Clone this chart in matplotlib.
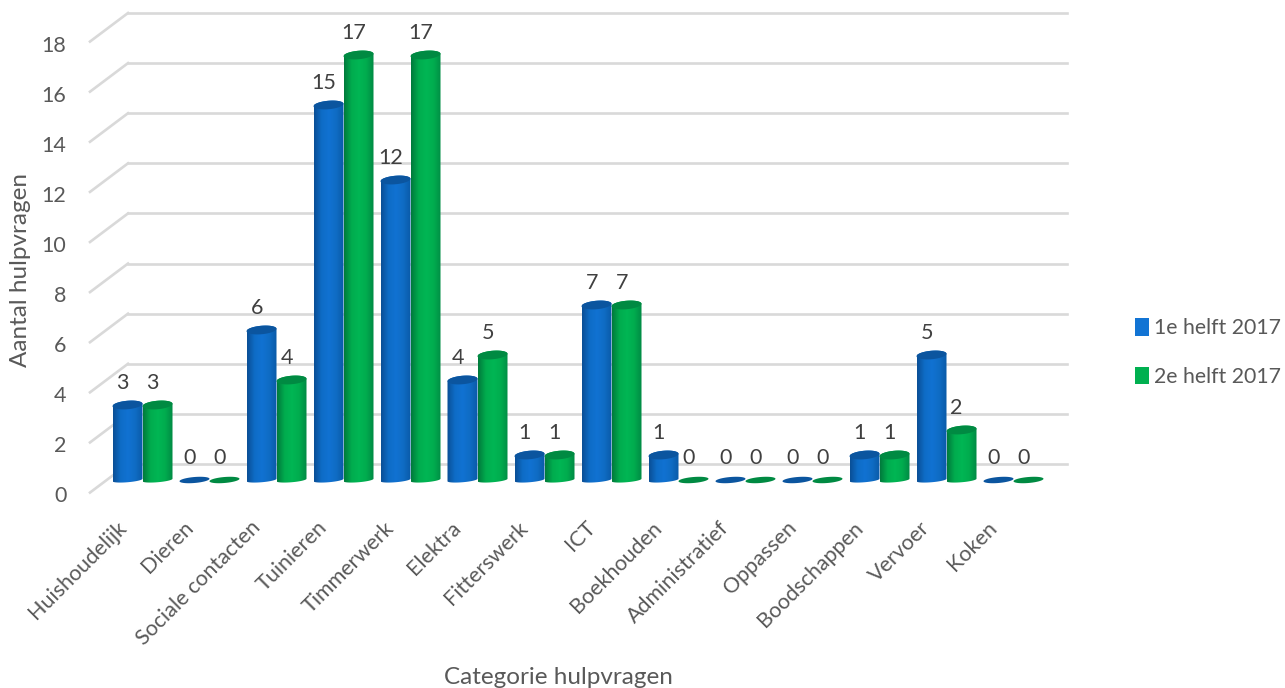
import numpy as np
import matplotlib
matplotlib.use("Agg")
import matplotlib.pyplot as plt
from matplotlib.colors import LinearSegmentedColormap
from matplotlib.patches import Polygon, Patch
from matplotlib.transforms import blended_transform_factory

categories = ["Huishoudelijk", "Dieren", "Sociale contacten", "Tuinieren", "Timmerwerk",
              "Elektra", "Fitterswerk", "ICT", "Boekhouden", "Administratief",
              "Oppassen", "Boodschappen", "Vervoer", "Koken"]
helft_1 = [3, 0, 6, 15, 12, 4, 1, 7, 1, 0, 0, 1, 5, 0]
helft_2 = [3, 0, 4, 17, 17, 5, 1, 7, 0, 0, 0, 1, 2, 0]
series_names = ["1e helft 2017", "2e helft 2017"]
y_ticks = list(range(0, 20, 2))

W, H = 1285, 688
plt.rcParams["font.family"] = ["Lato", "DejaVu Sans"]
TXT = "#595959"

fig = plt.figure(figsize=(W / 100, H / 100), dpi=100)


def axes_px(left, right, top, bottom):
    # axes from pixel box (y counted from the top of the image)
    return fig.add_axes([left / W, 1 - bottom / H, (right - left) / W, (bottom - top) / H])


# back wall with the gridlines
wall = axes_px(128, 1067, 13, 464)
wall.set_xlim(0, 1)
wall.set_ylim(0, 18)
wall.set_yticks(y_ticks)
wall.set_xticks([])
wall.tick_params(left=False, labelleft=False)
wall.grid(axis="y", color="#D9D9D9", lw=1.9)
for line in wall.get_ygridlines():
    line.set_clip_on(False)
wall.set_axisbelow(True)
for s in wall.spines.values():
    s.set_visible(False)
trans = blended_transform_factory(wall.transAxes, wall.transData)
for v in y_ticks:
    wall.plot([0, -38 / 939], [v, v - 1.14], transform=trans, color="#D9D9D9", lw=1.9, clip_on=False)

# front edge carries the tick labels and the titles
front = axes_px(90, 1030, 44, 494)
front.patch.set_alpha(0)
front.set_ylim(0, 18)
front.set_xlim((90 - 116) / 67, (1030 - 116) / 67)
front.set_yticks(y_ticks)
front.set_xticks(range(len(categories)))
front.set_xticklabels(categories, rotation=45, ha="right", rotation_mode="anchor")
front.tick_params(axis="y", length=0, pad=17, labelsize=15.5, labelcolor=TXT)
front.tick_params(axis="x", length=0, pad=17, labelsize=15.5, labelcolor=TXT)
for s in front.spines.values():
    s.set_visible(False)
front.set_xlabel("Categorie hulpvragen", fontsize=17.5, color=TXT, va="center")
front.set_ylabel("Aantal hulpvragen", fontsize=17.5, color=TXT, va="center")
front.xaxis.set_label_coords(558 / W, 1 - 678 / H, transform=fig.transFigure)
front.yaxis.set_label_coords(21 / W, 1 - 270 / H, transform=fig.transFigure)

# the cylinders
ax = axes_px(90, 1067, 5, 495)
ax.patch.set_alpha(0)
ax.axis("off")
x_min, x_max = (90 - 142.5) / 67, (1067 - 142.5) / 67
BAR_W = 30 / 67
OFFSET = 15 / 67
TOP_R = 0.17
BASE_R = 0.09
TILT = 0.22

cmap_blue = LinearSegmentedColormap.from_list("b", ["#0A4F96", "#0E6CC6", "#1172D2", "#0F6CC4", "#0A5AA8"])
cmap_green = LinearSegmentedColormap.from_list("g", ["#007A3C", "#00AC4E", "#00B654", "#00AC4E", "#008A44"])
grad = np.linspace(0, 1, 64).reshape(1, -1)


def ellipse_pts(x, y, ry, start, stop, n=40):
    t = np.linspace(start, stop, n)
    px = x + BAR_W / 2 * np.cos(t)
    return np.column_stack([px, y + ry * np.sin(t) + TILT * (px - x)])


def cylinder(x, v, cmap, cap):
    if v > 0:
        side = np.vstack([ellipse_pts(x, 0, BASE_R, np.pi, 2 * np.pi),
                          ellipse_pts(x, v, TOP_R, 0, np.pi)])
        poly = Polygon(side, closed=True, transform=ax.transData, fc="none", ec="none")
        ax.add_patch(poly)
        im = ax.imshow(grad, cmap=cmap, aspect="auto", zorder=2,
                       extent=[x - BAR_W / 2, x + BAR_W / 2, -0.3, v + 0.4])
        im.set_clip_path(poly)
        r = TOP_R
    else:
        r = 0.12
    ax.add_patch(Polygon(ellipse_pts(x, v, r, 0, 2 * np.pi), closed=True, fc=cap, ec="none", zorder=3))
    ax.annotate(str(v), (x, v), xytext=(-3.5, 16), textcoords="offset points", ha="center",
                va="center", fontsize=15.5, color="#404040", zorder=4)


for i, (a, b) in enumerate(zip(helft_1, helft_2)):
    cylinder(i - OFFSET, a, cmap_blue, "#0B559F")
    cylinder(i + OFFSET, b, cmap_green, "#008A42")
ax.set_xlim(x_min, x_max)
ax.set_ylim(-0.6, 19.0)

handles = [Patch(fc="#1274D4", label=series_names[0]), Patch(fc="#00B050", label=series_names[1])]
fig.legend(handles=handles, loc="center left", bbox_to_anchor=(1135 / W, 1 - 352.5 / H), frameon=False,
           fontsize=15.3, labelcolor=TXT, handlelength=0.68, handleheight=0.9, handletextpad=0.2,
           labelspacing=1.35, borderpad=0, borderaxespad=0)

fig.savefig("out.png", dpi=100)
